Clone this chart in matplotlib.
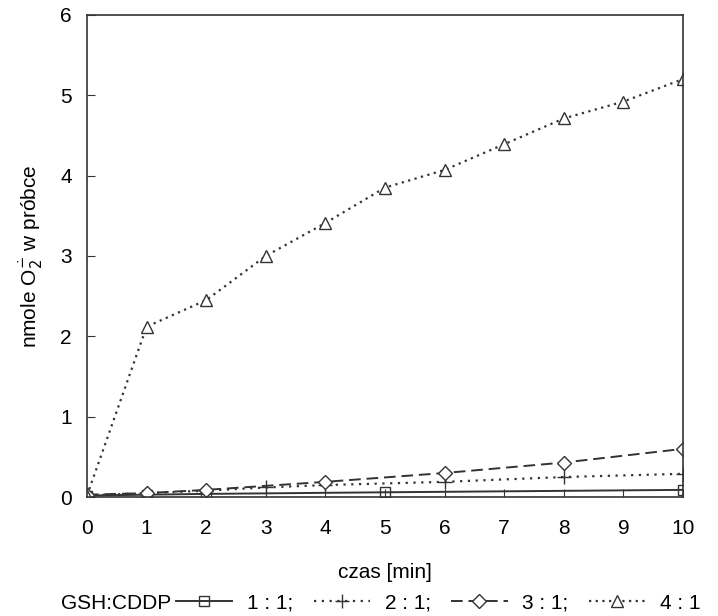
import matplotlib.pyplot as plt

plt.rcParams['font.family'] = ['Liberation Sans', 'DejaVu Sans']

# data
czas_11 = [0, 1, 2, 5, 10]
val_11 = [0.02, 0.03, 0.04, 0.06, 0.09]
czas_21 = [0, 1, 2, 3, 4, 6, 8, 10]
val_21 = [0.02, 0.05, 0.08, 0.12, 0.15, 0.19, 0.25, 0.29]
czas_31 = [0, 1, 2, 4, 6, 8, 10]
val_31 = [0.03, 0.05, 0.09, 0.19, 0.30, 0.43, 0.60]
czas_41 = [0, 1, 2, 3, 4, 5, 6, 7, 8, 9, 10]
val_41 = [0.02, 2.12, 2.45, 3.0, 3.41, 3.85, 4.07, 4.39, 4.71, 4.92, 5.20]

fig = plt.figure(figsize=(7.18, 6.16), dpi=100)
ax = fig.add_axes([0.1212, 0.193, 0.83, 0.783])

c = '#333333'
ax.plot(czas_11, val_11, color=c, lw=1.4, ls='-', marker='s', ms=7,
        mfc='none', mec=c, label='1 : 1;')
ax.plot(czas_21, val_21, color=c, lw=1.6, ls=(0, (1, 2.5)), marker='+', ms=10,
        mec=c, label='2 : 1;')
ax.plot(czas_31, val_31, color=c, lw=1.4, ls=(0, (6, 3)), marker='D', ms=7,
        mfc='white', mec=c, label='3 : 1;')
ax.plot(czas_41, val_41, color=c, lw=1.6, ls=(0, (1, 2)), marker='^', ms=9,
        mfc='white', mec=c, label='4 : 1')

ax.set_xlim(0, 10)
ax.set_ylim(0, 6)
ax.set_xticks(range(0, 11))
ax.set_yticks(range(0, 7))
ax.tick_params(direction='in', length=6, labelsize=15, color=c)
ax.tick_params(axis='x', pad=16)
ax.tick_params(axis='y', pad=11)
for s in ax.spines.values():
    s.set_color(c)
    s.set_linewidth(1.2)

ax.set_xlabel('czas [min]', fontsize=15, labelpad=18)
ax.set_ylabel('nmole O$_2^{\\dot{-}}$ w próbce', fontsize=15, labelpad=11)

fig.text(0.085, 0.021, 'GSH:CDDP', fontsize=15, va='center')
fig.legend(loc='center left', bbox_to_anchor=(0.245, 0.021), ncol=4, frameon=False,
           fontsize=15, handlelength=2.7, columnspacing=1.0, handletextpad=0.7,
           borderpad=0, borderaxespad=0)

fig.savefig('out.png', dpi=100)
